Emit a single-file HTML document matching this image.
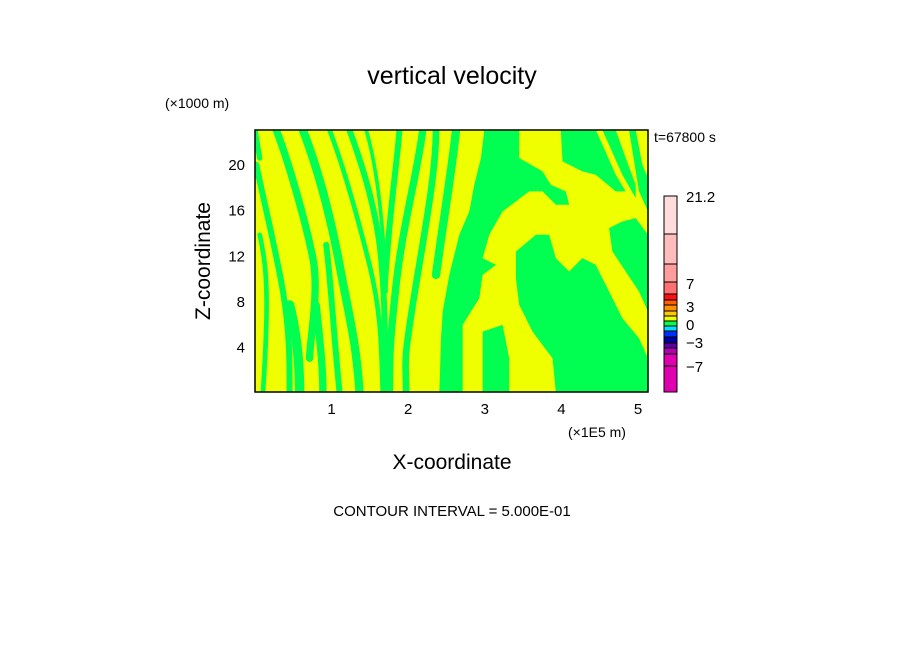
<!DOCTYPE html>
<html><head><meta charset="utf-8"><style>
body{margin:0;background:#fff;width:904px;height:654px;overflow:hidden}
svg text{font-family:"Liberation Sans",sans-serif;fill:#000}
</style></head><body>
<svg width="904" height="654" viewBox="0 0 904 654">
<text x="452" y="84" font-size="25" text-anchor="middle">vertical velocity</text>
<text x="165" y="108" font-size="14">(×1000 m)</text>
<text x="654" y="142" font-size="14">t=67800 s</text>
<text x="568" y="437" font-size="14">(×1E5 m)</text>
<text x="452" y="469" font-size="21" text-anchor="middle">X-coordinate</text>
<text transform="translate(210,261) rotate(-90)" font-size="21" text-anchor="middle">Z-coordinate</text>
<text x="452" y="516" font-size="15" text-anchor="middle">CONTOUR INTERVAL = 5.000E-01</text>
<g id="ticks"></g>
<svg x="255" y="130" width="393" height="262" viewBox="16 16 1181 785" preserveAspectRatio="none">
<rect x="16" y="16" width="1181" height="785" fill="#f0ff00"/>
<g fill="#00ff50">
<polygon points="800,380 860,330 900,330 920,400 960,440 1000,400 1040,420 1080,500 1120,580 1170,640 1197,700 1197,801 920,801 910,700 850,620 810,540 800,460"/>
<polygon points="705,16 810,16 810,100 880,140 905,180 950,200 960,240 920,240 880,200 840,200 760,260 720,330 700,400 740,420 700,450 690,520 640,600 640,801 570,801 575,640 580,560 600,450 630,330 660,260 675,180 695,100"/>
<polygon points="700,620 760,600 780,700 780,801 700,801"/>
<polygon points="935,16 1040,16 1060,60 1100,150 1130,200 1100,200 1040,150 1000,140 940,110"/>
<polygon points="1060,16 1100,16 1130,100 1160,180 1160,220 1120,150"/>
<polygon points="1140,16 1160,16 1180,120 1197,160 1197,260 1170,200"/>
<polygon points="1080,310 1120,290 1160,280 1197,330 1197,560 1170,500 1130,440 1090,380"/>
</g>
<g fill="none" stroke="#00ff50" stroke-linecap="round">
<path d="M80,16 C120,120 170,300 190,400 S180,650 180,700" stroke-width="22"/>
<path d="M20,120 C40,220 80,380 100,500 S120,700 120,801" stroke-width="18"/>
<path d="M160,16 C200,120 240,260 270,420 S320,650 330,801" stroke-width="25"/>
<path d="M240,16 C280,120 320,260 360,420 S395,700 400,801" stroke-width="14"/>
<path d="M300,16 C330,100 380,240 395,400 S405,700 410,801" stroke-width="18"/>
<path d="M350,16 C375,100 400,250 410,500" stroke-width="11"/>
<path d="M450,16 C445,100 420,250 405,500" stroke-width="18"/>
<path d="M520,16 C505,140 460,300 440,480 S420,700 420,801" stroke-width="22"/>
<path d="M560,16 C560,150 520,350 490,540 S470,700 470,801" stroke-width="20"/>
<path d="M620,16 C610,120 580,300 560,450" stroke-width="25"/>
<path d="M30,330 C50,420 60,500 40,801" stroke-width="14"/>
<path d="M230,360 C245,480 250,600 270,801" stroke-width="18"/>
<path d="M120,540 C140,620 150,700 150,801" stroke-width="28"/>
<path d="M200,540 C210,640 220,720 220,801" stroke-width="22"/>
<path d="M16,16 L30,100" stroke-width="16"/>
</g>
</svg>
<rect x="255" y="130" width="393" height="262" fill="none" stroke="#000" stroke-width="1.5"/>
<g id="colorbar"></g>
</svg>
<script>
const xTicks=[1,2,3,4,5];
const yTicks=[4,8,12,16,20];
const xMin=0,xMax=5.13,zMin=0,zMax=23;
const barEdges=[196,234,264,282,294,300,305,311,316,321,326,331,337,343,348,354,366,392];
const barColors=["#ffdcdc","#ffbcbc","#ff9c9c","#ff7070","#ff1010","#ff6000","#ff9000","#ffc800","#f0ff00","#00ff50","#00e0ff","#0030ff","#0000a0","#6000a0","#b000b0","#e000b0","#e000b0"];
const barLabels=["21.2","7","3","0","-3","-7"];
const barLabelY=[196,283,306,324,342,366];
const NS="http://www.w3.org/2000/svg";
const X=v=>255+(v-xMin)/(xMax-xMin)*393;
const Z=v=>392-(v-zMin)/(zMax-zMin)*262;
const tg=document.getElementById('ticks');
xTicks.forEach(v=>{const t=document.createElementNS(NS,'text');
t.setAttribute('x',X(v));t.setAttribute('y',414);t.setAttribute('font-size','15');t.setAttribute('text-anchor','middle');t.textContent=v;


tg.appendChild(t);});
yTicks.forEach(v=>{const t=document.createElementNS(NS,'text');
t.setAttribute('x',245);t.setAttribute('y',Z(v)+6);t.setAttribute('font-size','15');t.setAttribute('text-anchor','end');t.textContent=v;


tg.appendChild(t);});
const cb=document.getElementById('colorbar');
for(let i=0;i<barEdges.length-1;i++){const r=document.createElementNS(NS,'rect');
r.setAttribute('x',664);r.setAttribute('y',barEdges[i]);r.setAttribute('width',13);r.setAttribute('height',barEdges[i+1]-barEdges[i]);
r.setAttribute('fill',barColors[i]);r.setAttribute('stroke','#000');r.setAttribute('stroke-width','1');


cb.appendChild(r);}
barLabels.forEach((s,i)=>{const t=document.createElementNS(NS,'text');
t.setAttribute('x',686);t.setAttribute('y',barLabelY[i]+6);t.setAttribute('font-size','15');t.textContent=s.replace('-','−');


cb.appendChild(t);});
</script>
</body></html>
